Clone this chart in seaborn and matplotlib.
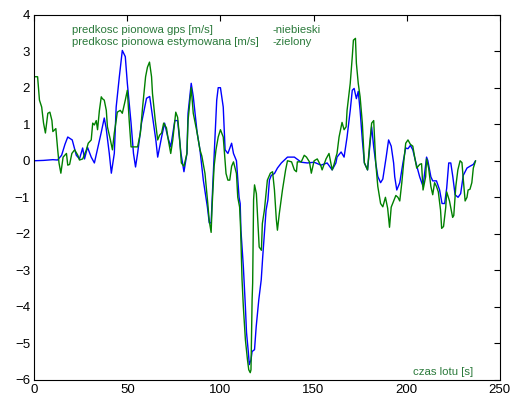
import matplotlib
matplotlib.use('Agg')
import matplotlib.pyplot as plt
import seaborn as sns

# czas [s] i predkosc pionowa [m/s]
gps_t = [0, 5, 10, 12.5, 14.7, 16.5, 18, 20.4, 22.6, 24.3, 26, 27, 28.6, 30.6, 32.3, 33.9, 36, 37.6, 38.6,
         40.3, 41.4, 43, 44, 45.7, 47.3, 48.9, 50, 52, 53.3, 54.4, 55.5, 57.6, 60.3, 62, 63.6, 65.3, 66.3,
         68.4, 70, 71.7, 73.3, 75.5, 77, 78.8, 80.4, 82, 82.6, 84.3, 85.4, 87.5, 89, 90.8, 93, 94, 95, 96,
         97, 98, 98.8, 100, 101.5, 102.5, 104, 106, 107, 108.6, 110, 110.6, 111, 112.3, 113.4, 114, 115,
         115.5, 116.4, 117, 118.3, 119.2, 120.6, 121.9, 122.7, 123.6, 124.5, 125.5, 126.3, 127.3, 129,
         130.6, 132.7, 136, 139.7, 143.4, 146.7, 150.3, 154, 157.3, 160, 162, 162.6, 164.8, 166.4, 168,
         169.7, 170.8, 171.8, 173, 174, 175, 176.2, 177.3, 179, 180, 181.2, 182.3, 183.4, 184.5, 186,
         187.2, 189, 190.3, 191.7, 193, 193.6, 194.7, 196.3, 198, 199.5, 200.7, 202, 203.3, 205, 207,
         208.8, 210.7, 211.4, 213, 214, 216, 217.7, 219, 220.4, 221.5, 222.6, 223.7, 224.8, 226, 227.6,
         229, 230.4, 232.4, 234, 235.8, 237]
gps_v = [0, 0.01, 0.03, 0.02, 0.15, 0.45, 0.65, 0.57, 0.15, 0.05, 0.35, 0.05, 0.37, 0.1, -0.06, 0.3, 0.78,
         1.17, 0.9, 0.2, -0.34, 0.2, 1.47, 2.3, 3.02, 2.85, 2.12, 1.03, 0.2, -0.17, 0.2, 1.03, 1.71, 1.76,
         1.19, 0.57, 0.1, 0.65, 1.03, 0.65, 0.38, 1.1, 1.1, 0.2, -0.3, 0.2, 1.3, 2.12, 1.76, 0.76, 0.3,
         -0.53, -1.27, -1.7, -1.7, -0.53, 0.57, 1.66, 2.0, 2.0, 1.47, 0.3, 0.2, 0.48, 0.2, 0.0, -1.0,
         -1.17, -1.9, -2.9, -4.0, -4.7, -5.25, -5.58, -5.45, -5.22, -5.17, -4.54, -3.8, -3.26, -2.63,
         -2.0, -1.35, -1.07, -0.53, -0.4, -0.35, -0.2, -0.06, 0.1, 0.1, -0.04, -0.06, -0.04, -0.12,
         -0.06, -0.25, -0.06, 0.1, 0.24, 0.1, 0.65, 1.38, 1.93, 1.98, 1.7, 1.9, 1.38, 0.57, -0.06, -0.25,
         0.3, 0.93, 0.38, -0.06, -0.43, -0.6, -0.5, 0.1, 0.57, 0.4, -0.06, -0.44, -0.8, -0.6, -0.06,
         0.35, 0.33, 0.42, 0.3, -0.06, -0.44, -0.7, 0.1, 0.0, -0.44, -0.55, -0.55, -0.8, -1.17, -1.17,
         -0.75, -0.06, -0.06, -0.44, -0.93, -1.0, -0.9, -0.4, -0.2, -0.15, -0.1, 0.0]

est_t = [0, 1.8, 2.8, 4, 5, 6, 7.3, 8.4, 9.5, 10, 11.6, 12.6, 13.3, 14.3, 15.5, 17.3, 18, 19, 20.2, 21.7,
         23.4, 24.3, 26, 28, 29, 30.6, 31.4, 32.3, 33.3, 34, 35, 36, 36.6, 37.6, 38.7, 39.3, 40.9, 42, 43,
         44, 44.6, 46.2, 47.3, 48.9, 50, 51, 52, 53.8, 55.5, 57, 58.2, 59.8, 60.8, 61.9, 63, 63.5, 65,
         66.3, 67.3, 68.4, 69.5, 71, 72, 73.3, 74.4, 76, 77, 78, 79, 80.4, 82, 82.6, 84.3, 85.4, 87.5, 89,
         90, 91.7, 93.2, 94, 95, 95.5, 96.6, 97.6, 98.8, 100, 101.5, 103, 104, 105, 106, 107, 108.6,
         109.3, 110.3, 110.8, 111.6, 112.3, 113.4, 114.5, 115.2, 116, 116.4, 117, 117.3, 117.8, 118.3,
         119.3, 120.8, 122, 122.5, 123.6, 124.7, 125.2, 126.8, 128, 129, 130, 130.6, 131.6, 133.3, 135,
         136, 138.2, 139.7, 140.8, 141.3, 143.4, 145, 146.2, 147.8, 148.8, 150.3, 152, 154, 154.6, 156.7,
         158.3, 160, 161, 162, 162.6, 163.7, 164.8, 165.3, 166.4, 167.5, 168, 169.7, 170.8, 171.4, 172.5,
         173, 174, 175, 176.2, 177.3, 179, 180, 181.2, 182.3, 183.4, 184.5, 186, 187.2, 188.6, 189.8,
         190.8, 191.7, 193, 194.2, 195.3, 196.3, 197.4, 198.5, 199.5, 200.7, 202, 203.3, 204.3, 205.4,
         207, 208, 208.8, 210.2, 210.7, 211.8, 213, 214, 215, 216, 217, 218.2, 218.8, 219.8, 221, 221.5,
         223, 224.7, 225.3, 226.4, 227.5, 228.7, 229.7, 230.3, 231.4, 232.4, 233, 234, 235, 235.8, 237]
est_v = [2.3, 2.3, 1.66, 1.47, 1.03, 0.76, 1.3, 1.33, 1.1, 0.8, 0.88, 0.3, -0.06, -0.34, 0.1, 0.2, -0.12,
         -0.1, 0.2, 0.3, 0.15, 0.02, 0.05, 0.3, 0.48, 0.57, 1.03, 0.98, 1.1, 0.85, 1.38, 1.75, 1.7, 1.66,
         1.38, 0.93, 0.57, 0.3, 0.76, 1.1, 1.33, 1.38, 1.3, 1.66, 1.93, 1.1, 0.38, 0.38, 0.38, 0.76, 1.47,
         2.3, 2.56, 2.7, 2.3, 1.84, 1.1, 0.57, 0.7, 0.76, 1.03, 0.9, 0.57, 0.2, 0.57, 1.33, 1.19, 0.65,
         -0.06, -0.15, 0.2, 1.1, 2.0, 1.3, 0.76, 0.3, 0.13, -0.35, -1.17, -1.65, -1.96, -1.27, -0.15,
         0.3, 0.65, 0.85, 0.65, -0.35, -0.53, -0.53, -0.15, -0.03, -0.35, -1.0, -1.27, -1.83, -3.26,
         -4.0, -4.9, -5.44, -5.72, -5.8, -5.72, -3.8, -3.35, -1.07, -0.66, -0.9, -2.36, -2.45, -1.72,
         -1.35, -0.8, -0.53, -0.34, -0.3, -0.8, -1.6, -1.9, -1.45, -0.8, -0.25, 0.0, -0.03, -0.25, -0.3,
         -0.03, -0.03, 0.15, 0.1, -0.03, -0.34, 0.0, 0.05, -0.15, -0.25, 0.05, 0.2, -0.25, -0.1, 0.1, 0.2,
         0.65, 0.93, 1.05, 0.85, 0.93, 1.38, 2.12, 2.85, 3.3, 3.35, 2.67, 2.12, 1.75, 1.03, -0.06, -0.25,
         0.38, 1.03, 1.1, -0.06, -0.7, -1.17, -1.26, -1.0, -1.3, -1.82, -1.27, -1.1, -0.95, -1.0, -1.1,
         -0.6, 0.0, 0.48, 0.57, 0.45, 0.4, 0.1, -0.2, -0.1, -0.08, -0.8, -0.44, 0.05, -0.2, -0.7, -0.93,
         -0.6, -0.7, -0.85, -1.35, -1.85, -1.8, -1.27, -0.85, -1.1, -1.55, -1.5, -0.7, -0.25, 0.0, -0.05,
         -0.44, -1.1, -1.0, -0.8, -0.78, -0.6, -0.2, 0.0]

x_ticks = [0, 50, 100, 150, 200, 250]
y_ticks = [-6, -5, -4, -3, -2, -1, 0, 1, 2, 3, 4]

sns.set_style('white')
plt.rcParams['font.family'] = ['Liberation Sans', 'DejaVu Sans']

fig = plt.figure(figsize=(5.11, 3.95), dpi=100)
ax = fig.add_axes([0.067, 0.038, 0.911, 0.925])

sns.lineplot(x=gps_t, y=gps_v, color='#0000ff', linewidth=1.0, sort=False, ax=ax)
sns.lineplot(x=est_t, y=est_v, color='#008000', linewidth=1.0, sort=False, ax=ax)

ax.set_xlim(0, 250)
ax.set_ylim(-6, 4)
ax.set_xticks(x_ticks)
ax.set_yticks(y_ticks)
ax.tick_params(direction='in', top=True, right=True, length=4, width=0.8,
               labelsize=9.5, colors='black', pad=3)
for s in ax.spines.values():
    s.set_color('black')
    s.set_linewidth(0.8)

txt_color = '#2b7a3b'
ax.text(20.2, 3.57, 'predkosc pionowa gps [m/s]', color=txt_color, fontsize=8.2, va='center')
ax.text(20.2, 3.24, 'predkosc pionowa estymowana [m/s]', color=txt_color, fontsize=8.2, va='center')
ax.text(128, 3.57, '-niebieski', color=txt_color, fontsize=8.2, va='center')
ax.text(128, 3.24, '-zielony', color=txt_color, fontsize=8.2, va='center')
ax.text(203.3, -5.78, 'czas lotu [s]', color=txt_color, fontsize=8.2, va='center')

fig.savefig('out.png', dpi=100)
